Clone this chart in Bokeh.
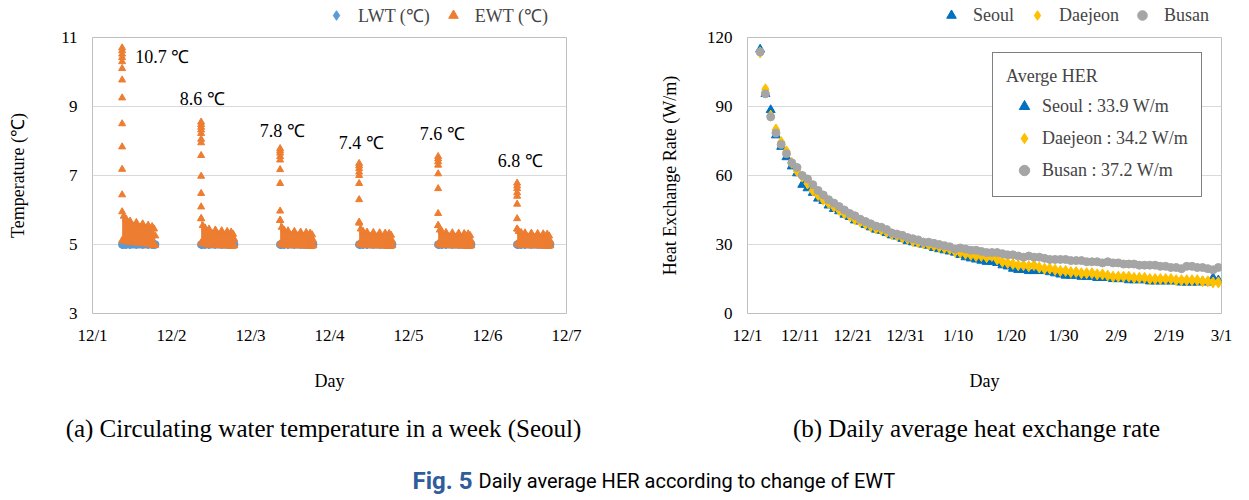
import numpy as np
from bokeh.plotting import figure
from bokeh.models import Range1d, FixedTicker, Legend, LegendItem
from bokeh.layouts import column, row
from bokeh.embed import file_html
from bokeh.resources import INLINE
from bokeh.core.properties import value

SERIF = "Liberation Serif"
FS = "17px"
FL = "18px"
GRID = "#D9D9D9"
FRAME = "#BFBFBF"

# ---------------- data: panel (a) circulating water temperature (Seoul)
a_tick_labels = ["12/1", "12/2", "12/3", "12/4", "12/5", "12/6", "12/7"]
a_peak = [10.7, 8.6, 7.8, 7.4, 7.6, 6.8]
a_peak_text = ["10.7 ℃", "8.6 ℃", "7.8 ℃", "7.4 ℃", "7.6 ℃", "6.8 ℃"]
a_on_time = 0.375                      # fraction of the day when the system starts
a_band_time = [0.0, 0.02, 0.05, 0.1, 0.18, 0.26, 0.33, 0.38, 0.405, 0.42]  # days after start
ewt_spike = [
    [10.7, 10.62, 10.52, 10.42, 10.3, 10.1, 9.77, 9.25, 8.5, 7.83, 7.18, 6.44],
    [8.55, 8.48, 8.4, 8.32, 8.22, 8.05, 7.95, 7.58, 6.98, 6.48, 6.09, 5.75],
    [7.78, 7.72, 7.65, 7.55, 7.45, 7.17, 6.77, 5.97, 5.7],
    [7.35, 7.28, 7.2, 7.1, 7.0, 6.77, 6.3, 5.65],
    [7.55, 7.48, 7.4, 7.3, 7.05, 6.62, 5.9, 5.55],
    [6.78, 6.7, 6.62, 6.5, 6.4, 6.17, 5.75, 5.45],
]
ewt_upper = [
    [5.95, 5.82, 5.74, 5.68, 5.64, 5.6, 5.56, 5.52, 5.45, 5.25],
    [5.75, 5.55, 5.48, 5.45, 5.42, 5.4, 5.38, 5.36, 5.3, 5.15],
    [5.7, 5.5, 5.42, 5.4, 5.38, 5.36, 5.35, 5.33, 5.28, 5.12],
    [5.62, 5.45, 5.38, 5.36, 5.35, 5.34, 5.33, 5.32, 5.27, 5.1],
    [5.55, 5.42, 5.37, 5.35, 5.34, 5.33, 5.32, 5.31, 5.26, 5.1],
    [5.45, 5.38, 5.35, 5.34, 5.33, 5.32, 5.31, 5.3, 5.25, 5.1],
]
ewt_lower = [
    [5.12, 5.1, 5.08, 5.06, 5.04, 5.02, 5.0, 4.98, 4.97, 4.98],
    [5.05, 5.03, 5.0, 4.98, 4.97, 4.96, 4.96, 4.95, 4.95, 4.97],
    [5.02, 5.0, 4.98, 4.97, 4.96, 4.96, 4.95, 4.95, 4.95, 4.97],
    [5.02, 5.0, 4.98, 4.97, 4.96, 4.96, 4.95, 4.95, 4.95, 4.97],
    [5.02, 5.0, 4.98, 4.97, 4.96, 4.96, 4.95, 4.95, 4.95, 4.97],
    [5.02, 5.0, 4.98, 4.97, 4.96, 4.96, 4.95, 4.95, 4.95, 4.97],
]
lwt_level = 5.0

# ---------------- data: panel (b) daily average heat exchange rate
b_tick_labels = ["12/1", "12/11", "12/21", "12/31", "1/10", "1/20", "1/30", "2/9", "2/19", "3/1"]
b_first_day = 2.4
seoul = [114.8, 95.5, 88.5, 77.5, 72.5, 68.0, 64.0, 61.0, 56.0, 54.5,
         52.5, 50.0, 49.0, 47.0, 45.5, 44.5, 43.0, 42.0, 40.5, 40.0,
         38.5, 37.5, 36.5, 36.0, 35.0, 34.0, 33.5, 32.5, 31.5, 31.0,
         30.5, 30.0, 29.5, 28.5, 28.0, 27.5, 27.0, 26.5, 25.5, 24.5,
         24.0, 23.5, 23.0, 22.5, 22.5, 22.0, 21.0, 20.5, 19.5, 19.0,
         19.0, 18.5, 18.5, 18.5, 18.5, 18.0, 17.5, 17.0, 16.5, 16.5,
         16.5, 16.0, 16.0, 16.0, 15.5, 15.5, 15.5, 15.0, 15.0, 15.0,
         14.5, 14.5, 14.5, 14.5, 14.0, 14.0, 14.0, 14.0, 14.0, 14.0,
         13.5, 13.5, 13.5, 13.5, 14.0, 13.5, 15.5, 14.5]
daejeon = [113.5, 97.5, 86.0, 80.0, 74.5, 70.5, 65.5, 62.0, 59.5, 56.5,
           53.5, 51.5, 49.5, 48.0, 46.5, 45.0, 43.5, 42.5, 41.0, 40.0,
           39.0, 38.0, 37.0, 36.5, 35.5, 34.5, 34.0, 33.0, 32.5, 31.5,
           31.0, 30.5, 30.0, 29.5, 29.0, 28.5, 28.0, 27.0, 26.5, 26.0,
           25.5, 25.0, 25.0, 24.5, 25.0, 23.5, 22.5, 22.0, 21.5, 21.0,
           21.0, 20.5, 21.0, 20.0, 19.5, 19.5, 19.0, 18.5, 18.5, 18.0,
           18.0, 17.5, 17.5, 17.5, 17.0, 17.0, 16.5, 16.0, 16.0, 16.0,
           16.0, 15.5, 15.5, 15.5, 15.0, 15.0, 15.0, 15.0, 15.0, 14.5,
           14.5, 14.5, 14.5, 14.5, 14.0, 14.0, 13.5, 13.5]
busan = [113.7, 95.5, 85.5, 78.5, 73.5, 69.5, 65.5, 63.5, 60.0, 58.5,
         56.0, 53.5, 51.5, 49.5, 48.0, 46.5, 45.0, 43.5, 42.5, 41.0,
         40.0, 39.0, 38.0, 37.5, 36.5, 35.0, 34.5, 34.0, 33.0, 32.5,
         32.0, 31.0, 31.0, 30.5, 30.0, 29.5, 29.0, 28.0, 28.5, 28.0,
         27.5, 27.5, 27.0, 26.5, 26.5, 26.5, 26.0, 25.5, 25.5, 25.0,
         24.5, 25.0, 24.5, 24.5, 24.0, 23.5, 23.5, 23.5, 23.5, 23.0,
         23.0, 23.0, 22.5, 22.5, 22.5, 22.0, 22.5, 22.0, 22.0, 21.5,
         21.5, 21.5, 21.0, 21.0, 21.0, 21.0, 20.5, 20.5, 20.0, 20.0,
         19.5, 20.5, 20.5, 20.0, 20.0, 19.5, 19.0, 20.0]
avg_her = {"Seoul": 33.9, "Daejeon": 34.2, "Busan": 37.2}

# ---------------- captions
caption_a = "(a) Circulating water temperature in a week (Seoul)"
caption_b = "(b) Daily average heat exchange rate"
fig_label = "Fig. 5"
fig_title = "Daily average HER according to change of EWT"

LWT_C = "#5B9BD5"
EWT_C = "#ED7D31"
SEOUL_C = "#0070C0"
DAEJEON_C = "#FFC000"
BUSAN_C = "#A5A5A5"
MK = {
    "LWT": dict(marker="diamond", size=9, fill_color=LWT_C, line_color=LWT_C),
    "EWT": dict(marker="triangle", size=7, fill_color=EWT_C, line_color=EWT_C),
    "Seoul": dict(marker="triangle", size=9, fill_color=SEOUL_C, line_color=SEOUL_C),
    "Daejeon": dict(marker="diamond", size=11, fill_color=DAEJEON_C, line_color=DAEJEON_C),
    "Busan": dict(marker="circle", size=8, fill_color=BUSAN_C, line_color=BUSAN_C),
}


def style(p, ylabel):
    p.outline_line_color = FRAME
    p.outline_line_width = 1
    p.background_fill_color = "white"
    p.border_fill_color = "white"
    p.xgrid.grid_line_color = None
    p.ygrid.grid_line_color = GRID
    p.ygrid.grid_line_width = 1
    for ax in (p.xaxis[0], p.yaxis[0]):
        ax.axis_line_color = None
        ax.major_tick_line_color = None
        ax.minor_tick_line_color = None
        ax.major_tick_out = 0
        ax.major_tick_in = 0
        ax.major_label_text_font = SERIF
        ax.major_label_text_font_size = FS
        ax.major_label_text_color = "black"
        ax.axis_label_text_font = SERIF
        ax.axis_label_text_font_size = FL
        ax.axis_label_text_font_style = "normal"
        ax.axis_label_text_color = "black"
    p.xaxis.axis_label = "Day"
    p.xaxis.major_label_standoff = 12
    p.xaxis.axis_label_standoff = 23
    p.yaxis.axis_label = ylabel
    p.yaxis.major_label_standoff = 15


def blank(width, height):
    f = figure(width=width, height=height, output_backend="svg", toolbar_location=None,
               x_range=Range1d(0, width), y_range=Range1d(0, height),
               x_axis_location=None, y_axis_location=None,
               min_border=0, min_border_left=0, min_border_right=0,
               min_border_top=0, min_border_bottom=0)
    f.outline_line_color = None
    f.grid.grid_line_color = None
    return f


def legend_strip(width, entries, x):
    """entries: (style key, label, x data, y data); the series renderers are hidden
    in the strip and only serve as legend keys."""
    s = blank(width, H_LEG)
    items = []
    for key, lab, xs, ys in entries:
        r = s.scatter(x=xs, y=ys, visible=False, **MK[key])
        items.append(LegendItem(label=lab, renderers=[r]))
    s.add_layout(Legend(items=items, orientation="horizontal", location=(x, 0),
                        padding=0, margin=0, spacing=11, label_standoff=10,
                        glyph_width=24, glyph_height=26, label_height=26,
                        label_text_font=SERIF, label_text_font_size=FL,
                        background_fill_alpha=0, border_line_color=None), "center")
    return s


H_LEG = 28
H_TOP = 403 - H_LEG

# ================= panel (a)
p1 = figure(width=628, height=H_TOP, output_backend="svg", toolbar_location=None,
            x_range=Range1d(0, 6), y_range=Range1d(3, 11),
            min_border_left=92, min_border_right=62, min_border_top=36 - H_LEG, min_border_bottom=90)
style(p1, "Temperature (℃)")
p1.yaxis.axis_label_standoff = 30
p1.xaxis.ticker = FixedTicker(ticks=list(range(len(a_tick_labels))))
p1.xaxis.major_label_overrides = {i: t for i, t in enumerate(a_tick_labels)}
p1.yaxis.ticker = FixedTicker(ticks=[3, 5, 7, 9, 11])

lwt_x, lwt_y = [], []
ewt_x, ewt_y = [], []
for d in range(6):
    t0 = d + a_on_time
    bx = [t0 + t for t in a_band_time]
    p1.line([bx[0], bx[-1]], [lwt_level, lwt_level], line_color=LWT_C, line_width=8, line_cap="round")
    lwt_x += bx
    lwt_y += [lwt_level] * len(bx)
p1.scatter(lwt_x, lwt_y, **MK["LWT"])
for d in range(6):
    t0 = d + a_on_time
    bx = [t0 + t for t in a_band_time]
    p1.varea(x=bx, y1=ewt_lower[d], y2=ewt_upper[d], fill_color=EWT_C)
    ewt_x += bx + bx + [t0] * len(ewt_spike[d])
    ewt_y += ewt_upper[d] + ewt_lower[d] + ewt_spike[d]
p1.scatter(ewt_x, ewt_y, **MK["EWT"])

# peak labels
p1.text(x=[a_on_time], y=[a_peak[0]], text=[a_peak_text[0]], x_offset=13, y_offset=9,
        text_font=value(SERIF), text_font_size=value(FL), text_align="left",
        text_baseline="middle", text_color="black")
p1.text(x=[d + a_on_time for d in range(1, 6)], y=a_peak[1:], text=a_peak_text[1:],
        x_offset=[1, 2, 2, 4, 3], y_offset=[-21, -17, -19, -21, -21],
        text_font=value(SERIF), text_font_size=value(FL), text_align="center",
        text_baseline="middle", text_color="black")

# ================= panel (b)
p2 = figure(width=620, height=H_TOP, output_backend="svg", toolbar_location=None,
            x_range=Range1d(0, 90), y_range=Range1d(0, 120),
            min_border_left=119, min_border_right=27, min_border_top=37 - H_LEG, min_border_bottom=90)
style(p2, "Heat Exchange Rate (W/m)")
p2.yaxis.axis_label_standoff = 24
p2.xaxis.ticker = FixedTicker(ticks=[10 * i for i in range(len(b_tick_labels))])
p2.xaxis.major_label_overrides = {10 * i: t for i, t in enumerate(b_tick_labels)}
p2.yaxis.ticker = FixedTicker(ticks=[0, 30, 60, 90, 120])

her_day = [b_first_day + i for i in range(len(seoul))]
r_seoul = p2.scatter(her_day, seoul, **MK["Seoul"])
r_daejeon = p2.scatter(her_day, daejeon, **MK["Daejeon"])
r_busan = p2.scatter(her_day, busan, **MK["Busan"])

leg3 = Legend(items=[LegendItem(label=f"{k} : {v} W/m", renderers=[r])
                     for (k, v), r in zip(avg_her.items(), [r_seoul, r_daejeon, r_busan])],
              title="Averge HER", location=(245, 116),
              padding=13, margin=0, spacing=6, label_standoff=0,
              glyph_width=36, glyph_height=26, label_height=26,
              title_text_font=SERIF, title_text_font_size=FL, title_text_font_style="normal",
              title_standoff=6,
              label_text_font=SERIF, label_text_font_size=FL,
              background_fill_color="white", background_fill_alpha=1,
              border_line_color="black", border_line_width=1.5)
p2.add_layout(leg3, "center")

# ================= legend strips above the panels
s1 = legend_strip(628, [("LWT", "LWT (℃)", lwt_x, lwt_y),
                        ("EWT", "EWT (℃)", ewt_x, ewt_y)], 324)
s2 = legend_strip(620, [("Seoul", "Seoul", her_day, seoul),
                        ("Daejeon", "Daejeon", her_day, daejeon),
                        ("Busan", "Busan", her_day, busan)], 311)

# ================= captions
p3 = blank(1248, 96)
p3.text(x=[323, 976], y=[71, 71], text=[caption_a, caption_b],
        text_font=value(SERIF), text_font_size=value("25px"), text_align="center",
        text_baseline="middle", text_color="black")
p3.text(x=[472], y=[19], text=[fig_label], text_font=value("Roboto"),
        text_font_size=value("24px"), text_font_style="bold", text_align="right",
        text_baseline="middle", text_color="#2F5C9A")
p3.text(x=[478], y=[19], text=[fig_title], text_font=value("Roboto"),
        text_font_size=value("20px"), text_align="left",
        text_baseline="middle", text_color="black")

layout = column(row(s1, s2), row(p1, p2), p3)
open("out.html", "w").write(file_html(layout, INLINE))
